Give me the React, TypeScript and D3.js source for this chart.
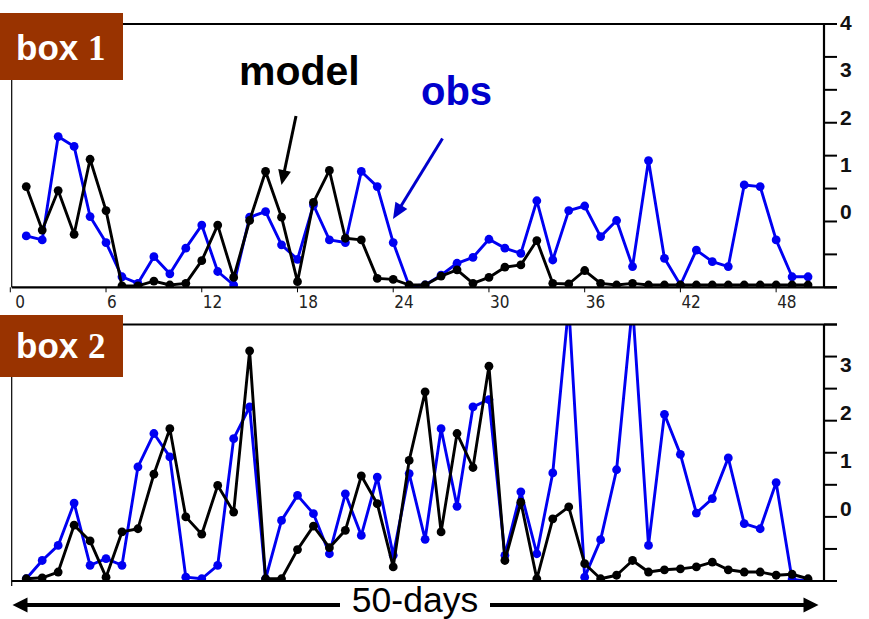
import React from 'react';
import * as d3 from 'd3';

// ---------- data ----------
const days: number[] = d3.range(1, 51);

const box1Obs: number[] = [
  1.56, 1.44, 4.58, 4.28, 2.15, 1.36, 0.32, 0.12, 0.93, 0.41,
  1.19, 1.89, 0.48, 0.07, 2.13, 2.30, 1.29, 0.85, 2.50, 1.44,
  1.36, 3.52, 3.06, 1.36, 0.04, 0.07, 0.37, 0.73, 0.91, 1.46,
  1.19, 1.03, 2.63, 0.83, 2.33, 2.47, 1.54, 2.03, 0.63, 3.85,
  0.88, 0.07, 1.13, 0.78, 0.63, 3.11, 3.06, 1.44, 0.32, 0.32,
];
const box1Model: number[] = [
  3.06, 1.74, 2.94, 1.61, 3.89, 2.33, 0.04, 0.04, 0.19, 0.07,
  0.12, 0.81, 1.89, 0.30, 2.03, 3.52, 2.13, 0.17, 2.58, 3.55,
  1.49, 1.44, 0.27, 0.24, 0.07, 0.07, 0.34, 0.53, 0.12, 0.30,
  0.61, 0.68, 1.42, 0.12, 0.10, 0.51, 0.12, 0.07, 0.12, 0.07,
  0.07, 0.07, 0.07, 0.07, 0.07, 0.07, 0.07, 0.07, 0.07, 0.07,
];
const box2Obs: number[] = [
  0.07, 0.64, 1.11, 2.43, 0.49, 0.70, 0.49, 3.56, 4.60, 3.87,
  0.12, 0.07, 0.49, 4.44, 5.43, 0.07, 1.89, 2.67, 2.10, 0.85,
  2.72, 1.42, 3.24, 0.80, 3.35, 1.30, 4.75, 2.33, 5.43, 5.66,
  0.80, 2.78, 0.85, 3.37, 8.60, 0.12, 1.29, 3.47, 8.60, 1.11,
  5.20, 3.95, 2.12, 2.57, 3.84, 1.79, 1.63, 3.07, 0.05, 0.00,
];
const box2Model: number[] = [
  0.07, 0.10, 0.28, 1.74, 1.25, 0.12, 1.53, 1.63, 3.33, 4.75,
  2.00, 1.46, 2.98, 2.15, 7.18, 0.07, 0.07, 0.98, 1.71, 1.04,
  1.58, 3.28, 2.41, 0.44, 3.76, 5.90, 1.53, 4.60, 3.54, 6.70,
  0.64, 2.46, 0.07, 1.94, 2.31, 0.54, 0.07, 0.18, 0.64, 0.28,
  0.35, 0.38, 0.44, 0.59, 0.35, 0.28, 0.28, 0.18, 0.21, 0.07,
];

const xTickValues: number[] = [0, 6, 12, 18, 24, 30, 36, 42, 48];
const rightTickValues: number[] = d3.range(0, 9);
const box1Labels: number[] = [0, 1, 2, 3, 4];
const box2Labels: number[] = [0, 1, 2, 3];

// ---------- styles ----------
const BLUE = '#0000f2';
const BLUE_TEXT = '#0000cc';
const BROWN = '#993300';
const SANS = '"Liberation Sans", Arial, Helvetica, sans-serif';
const NARROW = '"Liberation Sans Narrow", "DejaVu Sans Condensed", "Liberation Sans", sans-serif';

const W = 869;
const H = 619;

const x = d3.scaleLinear().domain([0, 51]).range([10.3, 824]);

type PanelProps = {
  id: string;
  obs: number[];
  model: number[];
  bottom: number;
  top: number;
  labels: number[];
  labelAnchor: [number, number];
  showXAxis: boolean;
  tag: string;
  tagTop: number;
  tagHeight: number;
};

function Panel(p: PanelProps) {
  const y = d3.scaleLinear().domain([0, 8]).range([p.bottom, p.top]);
  const lab = d3
    .scaleLinear()
    .domain([p.labels[0], p.labels[p.labels.length - 1]])
    .range([y(p.labelAnchor[0]), y(p.labelAnchor[1])]);
  const line = d3
    .line<number>()
    .x((_, i) => x(days[i]))
    .y((v) => y(v));
  const left = x.range()[0] + 1.4;
  const right = x.range()[1];

  const series = [
    { vals: p.obs, color: BLUE },
    { vals: p.model, color: '#000' },
  ];

  return (
    <g>
      <defs>
        <clipPath id={p.id}>
          <rect x={left} y={p.top} width={right - left} height={p.bottom - p.top} />
        </clipPath>
      </defs>
      <g clipPath={`url(#${p.id})`}>
        {series.map((s, k) => (
          <g key={k}>
            <path d={line(s.vals) || ''} fill="none" stroke={s.color} strokeWidth={2.9} strokeLinejoin="round" />
            {s.vals.map((v, i) => (
              <circle key={i} cx={x(days[i])} cy={y(v)} r={4.4} fill={s.color} />
            ))}
          </g>
        ))}
      </g>
      {/* frame */}
      <line x1={left} x2={left} y1={p.top} y2={p.bottom + (p.showXAxis ? 0 : 5)} stroke="#000" strokeWidth={1.2} />
      <line x1={left} x2={right + 13} y1={p.top} y2={p.top} stroke="#000" strokeWidth={2.2} />
      <line x1={left} x2={right + 13} y1={p.bottom} y2={p.bottom} stroke="#000" strokeWidth={2.2} />
      <line x1={right} x2={right} y1={p.top} y2={p.bottom} stroke="#000" strokeWidth={2.2} />
      {rightTickValues.map((t) => (
        <line key={t} x1={right} x2={right + 13} y1={y(t)} y2={y(t)} stroke="#000" strokeWidth={2} />
      ))}
      {p.labels.map((l) => (
        <text
          key={l}
          x={right + 16}
          y={lab(l)}
          dominantBaseline="central"
          fontFamily={SANS}
          fontWeight="bold"
          fontSize={21}
          fill="#111"
        >
          {l}
        </text>
      ))}
      {p.showXAxis &&
        xTickValues.map((t) => (
          <g key={t}>
            <line x1={x(t)} x2={x(t)} y1={p.bottom} y2={p.bottom + 5} stroke="#000" strokeWidth={1} />
            <text
              x={x(t) + (t === 0 ? 5 : 1)}
              y={p.bottom + 21}
              fontFamily={NARROW}
              fontStretch="condensed"
              fontSize={17}
              fill="#222"
            >
              {t}
            </text>
          </g>
        ))}
      {/* tag */}
      <rect x={0} y={p.tagTop} width={123} height={p.tagHeight} fill={BROWN} />
      <text x={16} y={p.tagTop + p.tagHeight * 0.7} fontFamily={SANS} fontWeight="bold" fontSize={35} fill="#fff">
        box{' '}
        <tspan fontFamily='"Liberation Serif", "Times New Roman", serif'>{p.tag}</tspan>
      </text>
    </g>
  );
}

function Arrow(props: { x1: number; y1: number; x2: number; y2: number; color: string; width: number; head: number; half: number }) {
  const { x1, y1, x2, y2, color, width, head, half } = props;
  const dx = x2 - x1;
  const dy = y2 - y1;
  const len = Math.hypot(dx, dy);
  const ux = dx / len;
  const uy = dy / len;
  const bx = x2 - ux * head;
  const by = y2 - uy * head;
  const pts = [
    [x2, y2],
    [bx - uy * half, by + ux * half],
    [bx + uy * half, by - ux * half],
  ]
    .map((q) => q.join(','))
    .join(' ');
  return (
    <g>
      <line x1={x1} y1={y1} x2={bx + ux * 1} y2={by + uy * 1} stroke={color} strokeWidth={width} />
      <polygon points={pts} fill={color} />
    </g>
  );
}

export default function App() {
  return (
    <svg width={W} height={H} style={{ position: 'absolute', left: 0, top: 0, background: '#fff' }}>
      <rect x={0} y={0} width={W} height={H} fill="#fff" />
      <Panel
        id="clip1"
        obs={box1Obs}
        model={box1Model}
        bottom={287.3}
        top={24}
        labels={box1Labels}
        labelAnchor={[2.29, 8.05]}
        showXAxis={true}
        tag="1"
        tagTop={13}
        tagHeight={67}
      />
      <Panel
        id="clip2"
        obs={box2Obs}
        model={box2Model}
        bottom={581}
        top={324.5}
        labels={box2Labels}
        labelAnchor={[2.27, 6.76]}
        showXAxis={false}
        tag="2"
        tagTop={315}
        tagHeight={62}
      />
      {/* annotations */}
      <text x={239} y={85} fontFamily={SANS} fontWeight="bold" fontSize={41} fill="#000">
        model
      </text>
      <Arrow x1={296} y1={116} x2={281.5} y2={185} color="#000" width={3} head={15} half={6.5} />
      <text x={421} y={105} fontFamily={SANS} fontWeight="bold" fontSize={40} fill={BLUE_TEXT}>
        obs
      </text>
      <Arrow x1={442.5} y1={138.5} x2={393} y2={219} color={BLUE_TEXT} width={3} head={16} half={7} />
      {/* 50-days arrow */}
      <Arrow x1={340} y1={605} x2={12.5} y2={605} color="#000" width={4} head={15} half={7.5} />
      <Arrow x1={490} y1={605} x2={818.5} y2={605} color="#000" width={4} head={15} half={7.5} />
      <text x={415} y={612} textAnchor="middle" fontFamily={SANS} fontSize={35.5} fill="#000">
        50-days
      </text>
    </svg>
  );
}
